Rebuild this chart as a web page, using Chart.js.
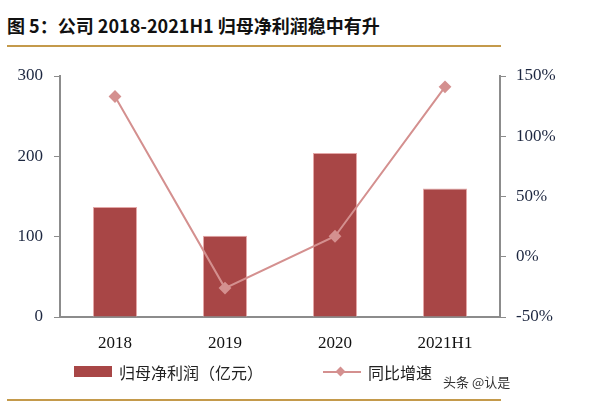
<!DOCTYPE html>
<html lang="zh">
<head>
<meta charset="UTF-8">
<title>归母净利润稳中有升</title>
<script src="https://cdn.jsdelivr.net/npm/chart.js"></script>
<style>
html, body { margin:0; padding:0; background:#fff; }
#wrap { position:relative; width:591px; height:409px; overflow:hidden; }
#title {
  position:absolute; left:7px; top:12px;
  font-family:"Noto Sans CJK SC", sans-serif; font-weight:bold; font-size:18px; color:#111;
  white-space:nowrap;
}
.rule { position:absolute; left:7px; width:494px; height:2px; background:#C49A4B; }
#chartBox { position:absolute; left:0; top:0; width:591px; height:409px; }
.leg { position:absolute; font-family:"Noto Sans CJK SC", sans-serif; font-size:16px; color:#222; white-space:nowrap; }
#barSw { position:absolute; left:74px; top:366px; width:38px; height:11px; background:#A84646; }
#lineSw { position:absolute; left:323px; top:371px; width:38px; height:2px; background:#D4908F; }
#lineDot { position:absolute; left:337px; top:368px; width:7px; height:7px; background:#D4908F; transform:rotate(45deg); }
#mark { position:absolute; left:443px; top:372px; font-family:"Noto Sans CJK SC", sans-serif; font-size:13px; color:#333; }
</style>
</head>
<body>
<div id="wrap">
  <div id="title">图 5：公司 2018-2021H1 归母净利润稳中有升</div>
  <div class="rule" style="top:45px"></div>
  <div id="chartBox"><canvas id="myChart" width="591" height="409"></canvas></div>
  <div id="barSw"></div>
  <div class="leg" style="left:119px; top:360px">归母净利润（亿元）</div>
  <div id="lineSw"></div>
  <div id="lineDot"></div>
  <div class="leg" style="left:368px; top:360px">同比增速</div>
  <div id="mark">头条 @认是</div>
  <div class="rule" style="top:399px"></div>
</div>

<script>
// dane z wykresu
const categories = ["2018", "2019", "2020", "2021H1"];
const profit = [137, 101, 204, 160];        // 归母净利润（亿元）
const growth = [133, -26, 17, 141];          // 同比增速 (%)
const leftTicks = [0, 100, 200, 300];
const rightTicks = [-50, 0, 50, 100, 150];

const axisGray = '#8c8c8c';
const tickFont = { family: '"Liberation Serif", serif', size: 17 };

const ctx = document.getElementById('myChart').getContext('2d');
let myChart = new Chart(ctx, {
  data: {
    labels: categories,
    datasets: [
      {
        type: 'line',
        label: '同比增速',
        data: growth,
        yAxisID: 'y1',
        borderColor: '#D4908F',
        backgroundColor: '#D4908F',
        borderWidth: 2,
        pointStyle: 'rectRot',
        pointRadius: 5,
        pointHoverRadius: 5,
        tension: 0,
        order: 0
      },
      {
        type: 'bar',
        label: '归母净利润（亿元）',
        data: profit,
        yAxisID: 'y',
        backgroundColor: '#A84646',
        borderColor: '#E3A7A7',
        borderWidth: 1,
        barPercentage: 0.4,
        categoryPercentage: 1,
        order: 1
      }
    ]
  },
  options: {
    responsive: false,
    animation: false,
    layout: { padding: { top: 76, left: 0, right: 0, bottom: 0 } },
    plugins: { legend: { display: false }, tooltip: { enabled: false } },
    scales: {
      x: {
        grid: { display: false },
        border: { display: true, color: axisGray, width: 2 },
        ticks: { color: '#111', font: tickFont, padding: 8 },
        afterFit: (s) => { s.height = 92; }
      },
      y: {
        position: 'left',
        min: 0, max: 300,
        afterBuildTicks: (s) => { s.ticks = leftTicks.map(v => ({ value: v })); },
        grid: { drawOnChartArea: false, drawTicks: true, tickLength: 6, color: axisGray },
        border: { display: true, color: axisGray, width: 2 },
        ticks: { color: '#1d2740', font: tickFont, padding: 11 },
        afterFit: (s) => { s.width = 60; }
      },
      y1: {
        position: 'right',
        min: -50, max: 150,
        afterBuildTicks: (s) => { s.ticks = rightTicks.map(v => ({ value: v })); },
        grid: { drawOnChartArea: false, drawTicks: true, tickLength: 6, color: axisGray },
        border: { display: true, color: axisGray, width: 2 },
        ticks: { color: '#1d2740', font: tickFont, padding: 10, callback: (v) => v + '%' },
        afterFit: (s) => { s.width = 91; }
      }
    }
  }
});
</script>
</body>
</html>
